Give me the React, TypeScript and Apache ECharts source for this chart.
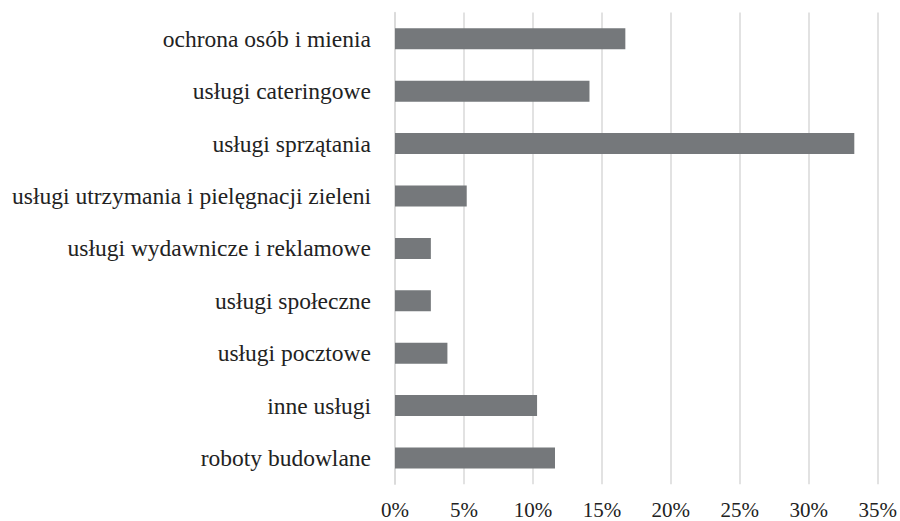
import React, { useEffect, useRef } from "react";
import * as echarts from "echarts";

const categories = [
  "ochrona osób i mienia",
  "usługi cateringowe",
  "usługi sprzątania",
  "usługi utrzymania i pielęgnacji zieleni",
  "usługi wydawnicze i reklamowe",
  "usługi społeczne",
  "usługi pocztowe",
  "inne usługi",
  "roboty budowlane",
];
const values = [16.7, 14.1, 33.3, 5.2, 2.6, 2.6, 3.8, 10.3, 11.6];
const xTicks = [0, 5, 10, 15, 20, 25, 30, 35];

const FONT = "Liberation Serif";

export default function App() {
  const ref = useRef<HTMLDivElement>(null);
  useEffect(() => {
    if (!ref.current) return;
    const chart = echarts.init(ref.current, null, { renderer: "svg" });
    chart.setOption({
      animation: false,
      backgroundColor: "#ffffff",
      grid: { left: 395, right: 16, top: 12.6, bottom: 36.8, containLabel: false },
      xAxis: {
        type: "value",
        min: xTicks[0],
        max: xTicks[xTicks.length - 1],
        interval: 5,
        axisLine: { show: false },
        axisTick: { show: false },
        splitLine: { show: true, lineStyle: { color: "#d9d9d9", width: 1.5 } },
        axisLabel: {
          formatter: (v: number) => `${v}%`,
          fontFamily: FONT,
          fontSize: 21,
          color: "#222222",
          margin: 15,
        },
      },
      yAxis: {
        type: "category",
        inverse: true,
        data: categories,
        axisLine: { show: true, lineStyle: { color: "#d9d9d9", width: 1.5 } },
        axisTick: { show: false },
        axisLabel: {
          fontFamily: FONT,
          fontSize: 23.5,
          color: "#222222",
          margin: 24,
        },
      },
      series: [
        {
          type: "bar",
          data: values,
          barCategoryGap: "60%",
          itemStyle: { color: "#75787b" },
        },
      ],
    });
    return () => chart.dispose();
  }, []);
  return (
    <div
      ref={ref}
      style={{ position: "absolute", left: 0, top: 0, width: 900, height: 521 }}
    />
  );
}
